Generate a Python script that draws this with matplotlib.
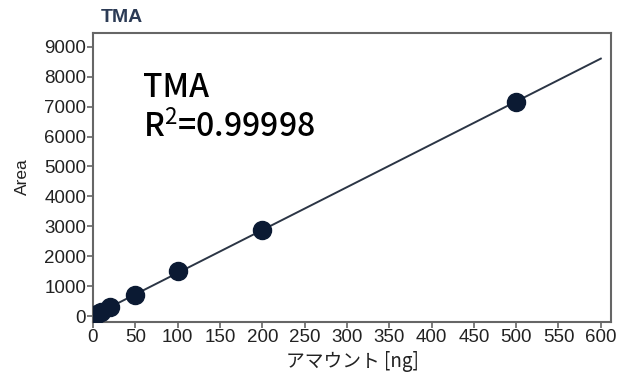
import numpy as np
import matplotlib
matplotlib.use("Agg")
import matplotlib.pyplot as plt

amount = [5, 10, 20, 50, 100, 200, 500]
area = [70, 140, 290, 690, 1500, 2890, 7160]
xticks = [0, 50, 100, 150, 200, 250, 300, 350, 400, 450, 500, 550, 600]
yticks = [0, 1000, 2000, 3000, 4000, 5000, 6000, 7000, 8000, 9000]
title = "TMA"
annot_name = "TMA"
annot_r2 = "R$^{2}$=0.99998"
xlabel = "アマウント [ng]"
ylabel = "Area"

plt.rcParams['font.family'] = ['Liberation Sans', 'Noto Sans CJK JP', 'DejaVu Sans']
plt.rcParams['mathtext.fontset'] = 'custom'
plt.rcParams['mathtext.rm'] = 'Noto Sans CJK JP'
plt.rcParams['mathtext.it'] = 'Noto Sans CJK JP'
plt.rcParams['mathtext.bf'] = 'Noto Sans CJK JP'

fig = plt.figure(figsize=(6.3, 3.76), dpi=100)
ax = fig.add_axes([0.1476, 0.1444, 0.8222, 0.7676])

slope, intercept = np.polyfit(amount, area, 1)
xl = np.array([0, 600])
ax.plot(xl, slope * xl + intercept, color='#2b3545', lw=1.4, zorder=2)
ax.plot(amount, area, 'o', color='#0b1a33', ms=13, zorder=3)

ax.set_xlim(0, 612)
ax.set_ylim(-190, 9460)
ax.set_xticks(xticks)
ax.set_yticks(yticks)
for s in ax.spines.values():
    s.set_color('#666666')
    s.set_linewidth(1.5)
ax.tick_params(direction='out', length=4, width=1.2, color='#666666',
               labelsize=13.5, labelcolor='#222222', pad=1)

fig.text(101 / 630, 1 - 17 / 376, title, fontsize=14, color='#2c3b55',
         fontweight='bold', va='center', ha='left')
afont = dict(family=['Noto Sans CJK JP', 'DejaVu Sans'], fontweight='medium',
             color='black', ha='left', va='baseline', fontsize=23)
fig.text(143 / 630, 1 - 97 / 376, annot_name, **afont)
fig.text(143 / 630, 1 - 137 / 376, annot_r2, **afont)

fig.text(352 / 630, 1 - 361 / 376, xlabel, fontsize=13.5, color='#222222',
         family=['Noto Sans CJK JP', 'DejaVu Sans'], ha='center', va='center')
fig.text(22 / 630, 1 - 177 / 376, ylabel, fontsize=12.5, color='#222222',
         rotation=90, ha='center', va='center')

fig.savefig("out.png", dpi=100)
